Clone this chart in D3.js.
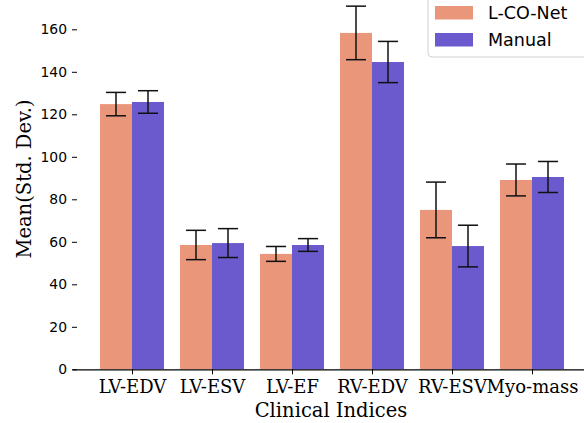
<!DOCTYPE html>
<html><head><meta charset="utf-8">
<script src="https://cdn.jsdelivr.net/npm/d3@7"></script>
<style>body{margin:0;background:#fff}svg{display:block}</style>
</head><body>
<script>
const categories = ["LV-EDV","LV-ESV","LV-EF","RV-EDV","RV-ESV","Myo-mass"];
const seriesNames = ["L-CO-Net","Manual"];
const lconetMean = [124.8, 58.5, 54.3, 158.3, 75.0, 89.1];
const lconetStd  = [5.5, 6.9, 3.5, 12.6, 13.1, 7.5];
const manualMean = [125.8, 59.4, 58.5, 144.6, 58.0, 90.5];
const manualStd  = [5.3, 6.8, 3.0, 9.7, 9.8, 7.3];
const yTicks = [0,20,40,60,80,100,120,140,160];
const colors = ["#E9967A","#6A5ACD"];

const W=584,H=423;
const svg=d3.select("body").append("svg").attr("width",W).attr("height",H);
const x=d3.scaleLinear().domain([-0.75,5.65]).range([72,584]);
const y=d3.scaleLinear().domain([0,160]).range([369.3,29.3]);
const bw=0.4;

const series=[{m:lconetMean,s:lconetStd,off:-bw/2},{m:manualMean,s:manualStd,off:bw/2}];

series.forEach((se,k)=>{
  svg.append("g").selectAll("rect").data(categories).join("rect")
    .attr("x",(d,i)=>x(i+se.off-bw/2))
    .attr("width",(d,i)=>x(i+se.off+bw/2)-x(i+se.off-bw/2))
    .attr("y",(d,i)=>y(se.m[i]))
    .attr("height",(d,i)=>y(0)-y(se.m[i]))
    .attr("fill",colors[k]);
});
series.forEach((se,k)=>{
  const g=svg.append("g").attr("stroke","#111").attr("stroke-width",1.5);
  categories.forEach((d,i)=>{
    const cx=x(i+se.off);
    const t=y(se.m[i]+se.s[i]), b=y(se.m[i]-se.s[i]);
    g.append("line").attr("x1",cx).attr("x2",cx).attr("y1",t).attr("y2",b);
    g.append("line").attr("x1",cx-10).attr("x2",cx+10).attr("y1",t).attr("y2",t);
    g.append("line").attr("x1",cx-10).attr("x2",cx+10).attr("y1",b).attr("y2",b);
  });
});

// y axis (no spine)
const ya=svg.append("g").attr("transform","translate(77,0)")
  .call(d3.axisLeft(y).tickValues(yTicks).tickSize(5).tickPadding(5));
ya.select(".domain").remove();
ya.selectAll("line").attr("stroke","#000").attr("stroke-width",1);
ya.selectAll("text").attr("font-family","DejaVu Sans").attr("font-size","13.9px").attr("fill","#000");

// x axis
const xa=svg.append("g").attr("transform","translate(0,369.3)")
  .call(d3.axisBottom(x).tickValues(d3.range(categories.length)).tickFormat(i=>categories[i]).tickSize(5).tickSizeOuter(0).tickPadding(6));
xa.select(".domain").attr("stroke","#000").attr("stroke-width",1.2);
xa.selectAll(".tick line").attr("stroke","#000");
xa.selectAll("text").attr("font-family","DejaVu Serif").attr("font-size","18px").attr("fill","#000");

svg.append("text").attr("x",331).attr("y",417).attr("text-anchor","middle")
  .attr("font-family","DejaVu Serif").attr("font-size","19.5px").text("Clinical Indices");
svg.append("text").attr("transform","translate(31,179) rotate(-90)").attr("text-anchor","middle")
  .attr("font-family","DejaVu Serif").attr("font-size","19.5px").text("Mean(Std. Dev.)");

// legend
const lg=svg.append("g");
lg.append("rect").attr("x",428).attr("y",-6).attr("width",170).attr("height",63).attr("rx",4)
  .attr("fill","#fff").attr("fill-opacity",0.8).attr("stroke","#d0d0d0");
seriesNames.forEach((n,k)=>{
  lg.append("rect").attr("x",435).attr("y",6+k*27).attr("width",38).attr("height",13.5).attr("fill",colors[k]);
  lg.append("text").attr("x",488).attr("y",19+k*27).attr("font-family","DejaVu Sans").attr("font-size","17.5px").text(n);
});
</script>
</body></html>
